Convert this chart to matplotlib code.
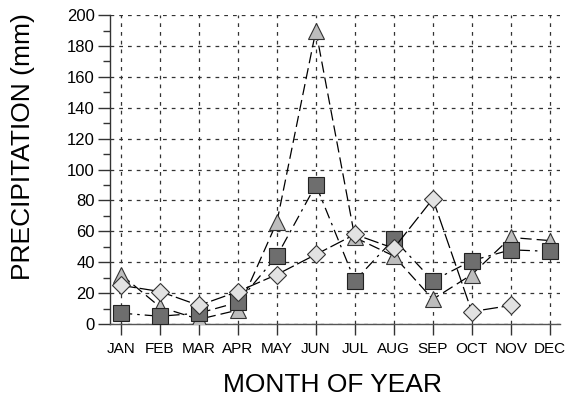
import matplotlib
matplotlib.use("Agg")
import matplotlib.pyplot as plt
import numpy as np
from matplotlib.ticker import MultipleLocator

months = ["JAN", "FEB", "MAR", "APR", "MAY", "JUN", "JUL", "AUG", "SEP", "OCT", "NOV", "DEC"]
triangles = [32, 11, 3, 9, 66, 190, 56, 44, 16, 32, 56, 54]
squares = [7, 5, 7, 14, 44, 90, 28, 55, 28, 41, 48, 47]
diamonds = [25, 21, 12, 21, 32, 45, 58, 49, 81, 8, 12, np.nan]

plt.rcParams['font.family'] = ['Liberation Sans', 'DejaVu Sans']

fig = plt.figure(figsize=(5.79, 4.07), dpi=100)
ax = fig.add_axes([0.19, 0.204, 0.777, 0.759])

x = np.arange(1, 13)
ax.plot(x, triangles, color='black', lw=0.9, dashes=(9, 4), marker='^', ms=12,
        mfc='#bdbdbd', mec='#333333', mew=0.8, zorder=3)
ax.plot(x, squares, color='black', lw=0.9, dashes=(9, 4, 2, 4), marker='s', ms=11,
        mfc='#6e6e6e', mec='#222222', mew=0.8, zorder=4)
ax.plot(x, diamonds, color='black', lw=0.9, dashes=(12, 3), marker='D', ms=9.5,
        mfc='#e2e2e2', mec='#333333', mew=0.8, zorder=5)

ax.set_xlim(0.718, 12.26)
ax.set_ylim(0, 200)
ax.set_xticks(x)
ax.set_xticklabels(months)
ax.yaxis.set_major_locator(MultipleLocator(20))
ax.yaxis.set_minor_locator(MultipleLocator(10))

ax.grid(True, which='major', color='#333333', linestyle=(0, (3, 4)), lw=0.9)
for s in ['top', 'right']:
    ax.spines[s].set_visible(False)
ax.spines['left'].set_color('#333333')
ax.spines['bottom'].set_color('#555555')
ax.spines['left'].set_linewidth(1.0)
ax.spines['bottom'].set_linewidth(1.0)

ax.tick_params(axis='y', which='major', length=9, width=1, color='#333333', labelsize=12, pad=2)
ax.tick_params(axis='y', which='minor', length=5, width=1, color='#333333')
ax.tick_params(axis='x', which='major', length=8, width=1, color='#333333', labelsize=11, pad=5)

fig.text(0.575, 0.054, "MONTH OF YEAR", fontsize=19, ha='center', va='center')
fig.text(0.040, 0.640, "PRECIPITATION (mm)", fontsize=19, ha='center', va='center',
         rotation=90)

fig.savefig("out.png", dpi=100)
